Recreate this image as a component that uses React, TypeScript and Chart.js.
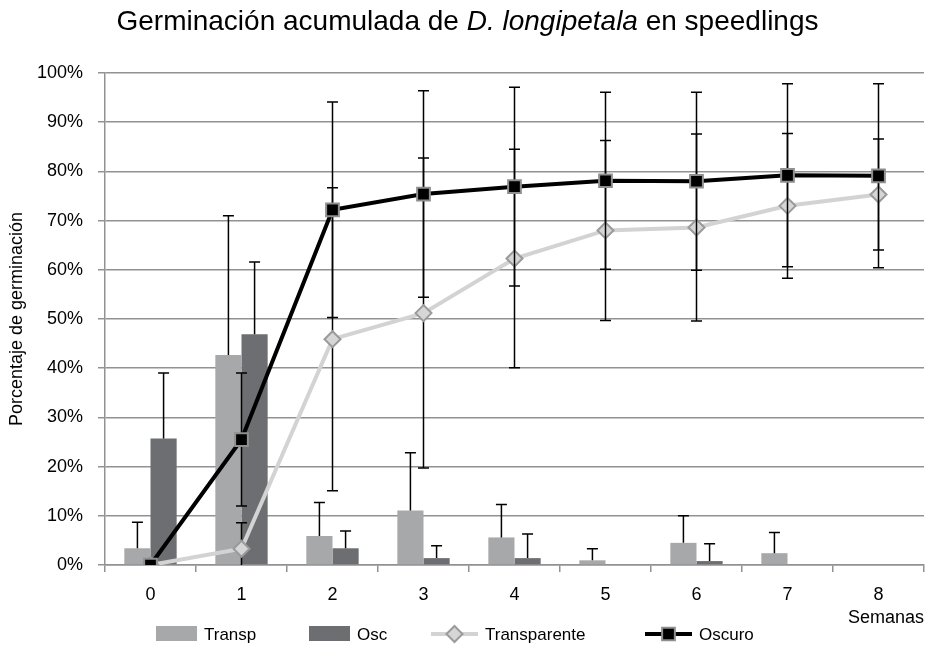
import { useEffect, useRef } from 'react';
import { Chart, registerables } from 'chart.js';

Chart.register(...registerables);

// ---- data ----
const weeks = ['0', '1', '2', '3', '4', '5', '6', '7', '8'];
const transpBar = [3.4, 42.7, 5.9, 11.1, 5.6, 0.95, 4.5, 2.4, 0];
const transpBarErr = [5.3, 28.3, 6.8, 11.7, 6.7, 2.35, 5.5, 4.2, 0];
const oscBar = [25.7, 46.9, 3.4, 1.4, 1.4, 0, 0.8, 0, 0];
const oscBarErr = [13.3, 14.7, 3.5, 2.5, 4.9, 0, 3.5, 0, 0];
const transparente = [0, 3.3, 45.9, 51.2, 62.3, 68.0, 68.6, 73.0, 75.3];
const transparenteErr = [0, 5.3, 30.8, 31.5, 22.2, 18.3, 19.0, 14.7, 11.3];
const oscuro = [0, 25.5, 72.2, 75.4, 76.9, 78.1, 78.0, 79.2, 79.1];
const oscuroErr = [0, 13.5, 21.9, 21.0, 20.2, 18.0, 18.1, 18.6, 18.7];
const yTicks = [0, 10, 20, 30, 40, 50, 60, 70, 80, 90, 100];

const FONT = '"Liberation Sans", Arial, sans-serif';
const GRID = '#929292';
const C_TRANSP = '#a7a8aa';
const C_OSC = '#6d6e71';

const errorBarPlugin = {
  id: 'errorBars',
  beforeDatasetDraw(chart: any, args: any) {
    const ds = chart.data.datasets[args.index];
    if (ds.type !== 'line' || !ds.errors) return;
    drawErrors(chart, args.meta, ds, true);
  },
  afterDatasetDraw(chart: any, args: any) {
    const ds = chart.data.datasets[args.index];
    if (ds.type === 'line' || !ds.errors) return;
    drawErrors(chart, args.meta, ds, false);
  },
};

function drawErrors(chart: any, meta: any, ds: any, both: boolean) {
  const ctx = chart.ctx;
  const ys = chart.scales.y;
  const ca = chart.chartArea;
  ctx.save();
  ctx.beginPath();
  ctx.rect(ca.left, ca.top - 10, ca.right - ca.left, ca.bottom - ca.top + 10);
  ctx.clip();
  ctx.strokeStyle = '#000';
  ctx.lineWidth = 1.5;
  const cap = 5.5;
  meta.data.forEach((el: any, i: number) => {
    const v = ds.data[i];
    const e = ds.errors[i];
    if (v == null || !e) return;
    const x = el.x;
    const yTop = ys.getPixelForValue(v + e);
    const yBot = both ? ys.getPixelForValue(v - e) : ys.getPixelForValue(v);
    ctx.beginPath();
    ctx.moveTo(x, yTop);
    ctx.lineTo(x, yBot);
    ctx.moveTo(x - cap, yTop);
    ctx.lineTo(x + cap, yTop);
    if (both) {
      ctx.moveTo(x - cap, yBot);
      ctx.lineTo(x + cap, yBot);
    }
    ctx.stroke();
  });
  ctx.restore();
}

const titlePlugin = {
  id: 'mixedTitle',
  afterDraw(chart: any) {
    const ctx = chart.ctx;
    const parts = [
      { t: 'Germinación acumulada de ', f: `28px ${FONT}` },
      { t: 'D. longipetala', f: `italic 28px ${FONT}` },
      { t: ' en speedlings', f: `28px ${FONT}` },
    ];
    ctx.save();
    let total = 0;
    parts.forEach((p) => {
      ctx.font = p.f;
      total += ctx.measureText(p.t).width;
    });
    let x = chart.width / 2 - total / 2;
    ctx.fillStyle = '#000';
    ctx.textBaseline = 'alphabetic';
    ctx.textAlign = 'left';
    parts.forEach((p) => {
      ctx.font = p.f;
      ctx.fillText(p.t, x, 30);
      x += ctx.measureText(p.t).width;
    });
    ctx.restore();
  },
};

const legendX = [156, 309, 431, 645];

const legendPlugin = {
  id: 'customLegend',
  afterDraw(chart: any) {
    const ctx = chart.ctx;
    const cy = 634;
    ctx.save();
    ctx.font = `17px ${FONT}`;
    ctx.textBaseline = 'middle';
    ctx.textAlign = 'left';
    chart.data.datasets.forEach((ds: any, i: number) => {
      const x0 = legendX[i];
      if (ds.type === 'line') {
        const w = 47;
        ctx.strokeStyle = ds.borderColor;
        ctx.lineWidth = ds.borderWidth;
        ctx.beginPath();
        ctx.moveTo(x0, cy);
        ctx.lineTo(x0 + w, cy);
        ctx.stroke();
        const cx = x0 + w / 2;
        ctx.fillStyle = ds.pointBackgroundColor;
        ctx.strokeStyle = ds.pointBorderColor;
        ctx.lineWidth = ds.pointBorderWidth;
        ctx.beginPath();
        if (ds.pointStyle === 'rectRot') {
          const r = ds.pointRadius;
          ctx.moveTo(cx - r, cy);
          ctx.lineTo(cx, cy - r);
          ctx.lineTo(cx + r, cy);
          ctx.lineTo(cx, cy + r);
          ctx.closePath();
        } else {
          const s = ds.pointRadius * Math.SQRT1_2;
          ctx.rect(cx - s, cy - s, 2 * s, 2 * s);
        }
        ctx.fill();
        ctx.stroke();
        ctx.fillStyle = '#000';
        ctx.fillText(ds.label, x0 + w + 7, cy + 1);
      } else {
        ctx.fillStyle = ds.backgroundColor;
        ctx.fillRect(x0, cy - 8, 41, 15);
        ctx.fillStyle = '#000';
        ctx.fillText(ds.label, x0 + 48, cy + 1);
      }
    });
    ctx.restore();
  },
};

export default function App() {
  const ref = useRef<HTMLCanvasElement | null>(null);
  useEffect(() => {
    document.body.style.margin = '0';
    const canvas = ref.current;
    if (!canvas) return;
    const chart = new Chart(canvas, {
      type: 'bar',
      data: {
        labels: weeks,
        datasets: [
          {
            type: 'bar',
            label: 'Transp',
            data: transpBar,
            errors: transpBarErr,
            backgroundColor: C_TRANSP,
            order: 2,
            categoryPercentage: 0.575,
            barPercentage: 1,
          } as any,
          {
            type: 'bar',
            label: 'Osc',
            data: oscBar,
            errors: oscBarErr,
            backgroundColor: C_OSC,
            order: 2,
            categoryPercentage: 0.575,
            barPercentage: 1,
          } as any,
          {
            type: 'line',
            label: 'Transparente',
            data: transparente,
            errors: transparenteErr,
            borderColor: '#d3d3d3',
            borderWidth: 4,
            tension: 0,
            pointStyle: 'rectRot',
            pointRadius: 8,
            pointBackgroundColor: '#d6d6d6',
            pointBorderColor: '#9a9a9a',
            pointBorderWidth: 2,
            order: 1,
          } as any,
          {
            type: 'line',
            label: 'Oscuro',
            data: oscuro,
            errors: oscuroErr,
            borderColor: '#000000',
            borderWidth: 4,
            tension: 0,
            pointStyle: 'rect',
            pointRadius: 9,
            pointBackgroundColor: '#000000',
            pointBorderColor: '#8f8f8f',
            pointBorderWidth: 2,
            order: 0,
          } as any,
        ],
      },
      options: {
        responsive: false,
        animation: false,
        devicePixelRatio: 1,
        layout: { padding: { top: 73, bottom: 15, left: 0, right: 0 } },
        plugins: {
          legend: { display: false },
          title: { display: false },
          tooltip: { enabled: false },
        },
        scales: {
          x: {
            grid: {
              offset: true,
              drawOnChartArea: false,
              drawTicks: true,
              tickLength: 7,
              color: GRID,
              lineWidth: 1.5,
            },
            border: { color: GRID, width: 1.5 },
            ticks: { color: '#000', font: { family: FONT, size: 18 }, padding: 12 },
            title: {
              display: true,
              text: 'Semanas',
              align: 'end',
              color: '#000',
              font: { family: FONT, size: 18 },
              padding: { top: 0, bottom: 1 },
            },
            afterFit: (s: any) => {
              s.height = 65;
            },
          },
          y: {
            min: 0,
            max: 100,
            afterBuildTicks: (s: any) => {
              s.ticks = yTicks.map((v) => ({ value: v }));
            },
            grid: { color: GRID, lineWidth: 1.5, tickLength: 7 },
            border: { color: GRID, width: 1.5 },
            ticks: {
              color: '#000',
              font: { family: FONT, size: 18 },
              padding: 15,
              callback: (v: any) => v + '%',
            },
            title: {
              display: true,
              text: 'Porcentaje de germinación',
              color: '#000',
              font: { family: FONT, size: 18 },
              padding: { top: 6, bottom: 0 },
            },
            afterFit: (s: any) => {
              s.width = 105;
            },
          },
        },
      } as any,
      plugins: [errorBarPlugin, titlePlugin, legendPlugin],
    });
    return () => chart.destroy();
  }, []);
  return <canvas ref={ref} width={935} height={645} style={{ display: 'block', width: 935, height: 645 }} />;
}
